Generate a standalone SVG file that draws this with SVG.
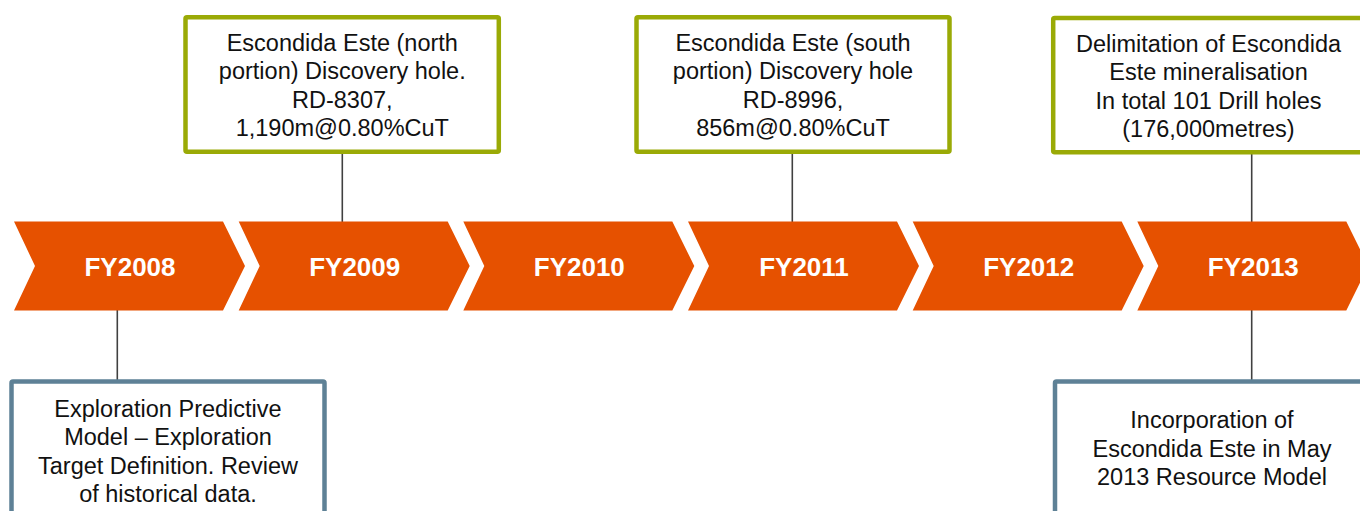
<svg xmlns="http://www.w3.org/2000/svg" width="1360" height="511" viewBox="0 0 1360 511">
<style>
.chev{fill:#E65100;}
.fy{font-family:"Liberation Sans",Arial,sans-serif;font-weight:bold;font-size:26px;fill:#FFFFFF;text-anchor:middle;}
.top{fill:#FFFFFF;stroke:#9AAA06;stroke-width:4.5;}
.bot{fill:#FFFFFF;stroke:#5E8196;stroke-width:4.5;}
.t{font-family:"Liberation Sans",Arial,sans-serif;font-size:23.5px;fill:#111111;text-anchor:middle;}
.conn{stroke:#404040;stroke-width:1.6;fill:none;}
</style>
<rect width="1360" height="511" fill="#FFFFFF"/>
<g id="connectors">
<line class="conn" x1="342.3" y1="154" x2="342.3" y2="222"/>
<line class="conn" x1="792.3" y1="154" x2="792.3" y2="222"/>
<line class="conn" x1="1251.7" y1="154" x2="1251.7" y2="222"/>
<line class="conn" x1="117.3" y1="310" x2="117.3" y2="380"/>
<line class="conn" x1="1251.7" y1="310" x2="1251.7" y2="380"/>
</g>
<g id="fy2008">
<polygon class="chev" points="14,221.5 223,221.5 245,266 223,310.5 14,310.5 35,266"/>
<text class="fy" x="130" y="276">FY2008</text>
</g>
<g id="fy2009">
<polygon class="chev" points="238.7,221.5 447.7,221.5 469.7,266 447.7,310.5 238.7,310.5 259.7,266"/>
<text class="fy" x="354.7" y="276">FY2009</text>
</g>
<g id="fy2010">
<polygon class="chev" points="463.3,221.5 672.3,221.5 694.3,266 672.3,310.5 463.3,310.5 484.3,266"/>
<text class="fy" x="579.3" y="276">FY2010</text>
</g>
<g id="fy2011">
<polygon class="chev" points="688,221.5 897,221.5 919,266 897,310.5 688,310.5 709,266"/>
<text class="fy" x="804" y="276">FY2011</text>
</g>
<g id="fy2012">
<polygon class="chev" points="912.7,221.5 1121.7,221.5 1143.7,266 1121.7,310.5 912.7,310.5 933.7,266"/>
<text class="fy" x="1028.7" y="276">FY2012</text>
</g>
<g id="fy2013">
<polygon class="chev" points="1137.3,221.5 1346.3,221.5 1368.3,266 1346.3,310.5 1137.3,310.5 1158.3,266"/>
<text class="fy" x="1253.3" y="276">FY2013</text>
</g>
<g id="north-discovery">
<rect class="top" x="185.5" y="17.2" width="313.3" height="134.6" rx="1.5"/>
<text class="t" x="342.3"><tspan x="342.3" y="50.5">Escondida Este (north</tspan><tspan x="342.3" y="79">portion) Discovery hole.</tspan><tspan x="342.3" y="107.5">RD-8307,</tspan><tspan x="342.3" y="136">1,190m@0.80%CuT</tspan></text>
</g>
<g id="south-discovery">
<rect class="top" x="636.5" y="17.2" width="313" height="134.6" rx="1.5"/>
<text class="t" x="793"><tspan x="793" y="50.5">Escondida Este (south</tspan><tspan x="793" y="79">portion) Discovery hole</tspan><tspan x="793" y="107.5">RD-8996,</tspan><tspan x="793" y="136">856m@0.80%CuT</tspan></text>
</g>
<g id="delimitation">
<rect class="top" x="1053.2" y="18" width="313" height="134.2" rx="1.5"/>
<text class="t" x="1208.5"><tspan x="1208.5" y="51.5">Delimitation of Escondida</tspan><tspan x="1208.5" y="80">Este mineralisation</tspan><tspan x="1208.5" y="108.5">In total 101 Drill holes</tspan><tspan x="1208.5" y="137">(176,000metres)</tspan></text>
</g>
<g id="exploration-model">
<rect class="bot" x="11.5" y="381.5" width="313" height="160" rx="1.5"/>
<text class="t" x="168"><tspan x="168" y="416.5">Exploration Predictive</tspan><tspan x="168" y="445">Model – Exploration</tspan><tspan x="168" y="473.5">Target Definition. Review</tspan><tspan x="168" y="502">of historical data.</tspan></text>
</g>
<g id="resource-model">
<rect class="bot" x="1055" y="381.5" width="313" height="160" rx="1.5"/>
<text class="t" x="1212"><tspan x="1212" y="428">Incorporation of</tspan><tspan x="1212" y="456.5">Escondida Este in May</tspan><tspan x="1212" y="485">2013 Resource Model</tspan></text>
</g>
</svg>
